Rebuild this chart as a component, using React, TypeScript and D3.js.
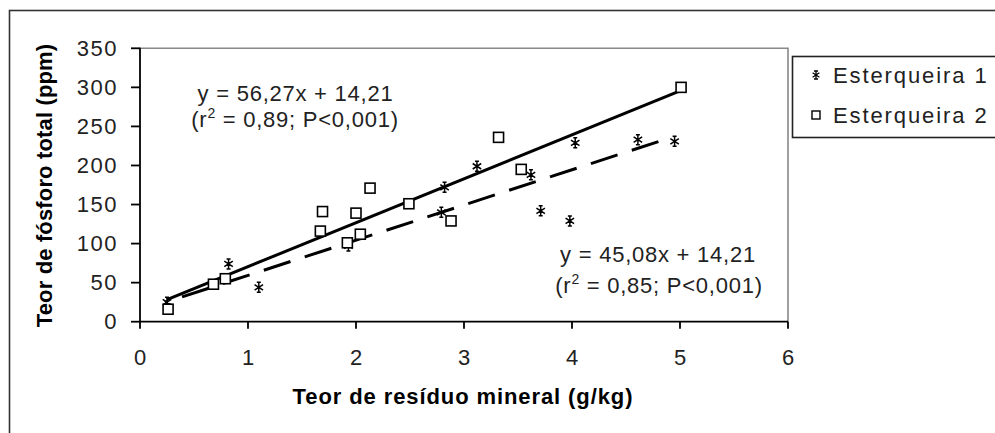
import React from 'react';
import * as d3 from 'd3';

const xTicks = [0, 1, 2, 3, 4, 5, 6];
const yTicks = [0, 50, 100, 150, 200, 250, 300, 350];

// Esterqueira 1 (asterisks)
const s1X = [0.25, 0.82, 1.1, 1.93, 2.79, 2.82, 3.12, 3.62, 3.71, 3.98, 4.03, 4.61, 4.95];
const s1Y = [25, 74, 44, 97, 140, 172, 199, 188, 142, 129, 229, 233, 231];
// Esterqueira 2 (squares)
const s2X = [0.26, 0.68, 0.79, 1.67, 1.69, 1.92, 2.0, 2.04, 2.13, 2.49, 2.88, 3.32, 3.53, 5.01];
const s2Y = [16, 48, 55, 116, 141, 101, 139, 112, 171, 151, 129, 236, 195, 300];

// regression fits: [solid (Esterqueira 2), dashed (Esterqueira 1)]
const fitSlopes = [56.27, 45.08];
const fitIntercepts = [14.21, 14.21];
const fitFrom = [0.25, 0.23];
const fitTo = [5.0, 4.8];

const legendLabels = ['Esterqueira 1', 'Esterqueira 2'];
const eq1 = ['y = 56,27x + 14,21', ' = 0,89; P<0,001)'];
const eq2 = ['y = 45,08x + 14,21', ' = 0,85; P<0,001)'];
const xTitle = 'Teor de resíduo mineral (g/kg)';
const yTitle = 'Teor de fósforo total (ppm)';

const FONT = '"Liberation Sans", Arial, sans-serif';

function starPath(cx: number, cy: number, r: number) {
  const dx = r * 0.85, dy = r * 0.55;
  return `M${cx},${cy - r}L${cx},${cy + r}` +
    `M${cx - dx},${cy - dy}L${cx + dx},${cy + dy}` +
    `M${cx - dx},${cy + dy}L${cx + dx},${cy - dy}` +
    `M${cx - 2},${cy - r}L${cx + 2},${cy - r}` +
    `M${cx - 2},${cy + r}L${cx + 2},${cy + r}`;
}

export default function App() {
  const x = d3.scaleLinear().domain([0, 6]).range([140, 788]);
  const y = d3.scaleLinear().domain([0, 350]).range([321.7, 48.3]);

  const fitPts = (k: number): [number, number][] =>
    [fitFrom[k], fitTo[k]].map((v) => [x(v), y(fitSlopes[k] * v + fitIntercepts[k])] as [number, number]);
  const fitPath = (k: number) => d3.line()(fitPts(k)) as string;

  const DASH = 28, GAP = 15;
  const p = fitPts(1);
  const len = Math.hypot(p[1][0] - p[0][0], p[1][1] - p[0][1]);
  const period = DASH + GAP;
  const dashOffset = ((DASH - (len % period)) % period + period) % period;

  return (
    <svg width={995} height={433} style={{ position: 'absolute', left: 0, top: 0, background: '#fff' }}>
      {/* outer chart border */}
      <rect x={9.5} y={10.5} width={1100} height={600} fill="#fff" stroke="#333" strokeWidth={1.6} />
      {/* plot area border */}
      <path d={`M${x(0)},${y(350)}H${x(6)}V${y(0)}`} fill="none" stroke="#888" strokeWidth={1.6} />
      {/* axes */}
      <line x1={x(0)} x2={x(0)} y1={y(350) - 0.5} y2={y(0)} stroke="#000" strokeWidth={1.8} />
      <line x1={x(0)} x2={x(6)} y1={y(0)} y2={y(0)} stroke="#000" strokeWidth={1.8} />
      {yTicks.map((t) => (
        <g key={'y' + t}>
          <line x1={x(0) - 9} x2={x(0)} y1={y(t)} y2={y(t)} stroke="#000" strokeWidth={1.8} />
          <text x={118} y={y(t) + 7.5} textAnchor="end" fontFamily={FONT} fontSize={22} letterSpacing={1.5} fill="#222">{t}</text>
        </g>
      ))}
      {xTicks.map((t) => (
        <g key={'x' + t}>
          <line x1={x(t)} x2={x(t)} y1={y(0)} y2={y(0) + 7} stroke="#000" strokeWidth={1.8} />
          <text x={x(t)} y={365} textAnchor="middle" fontFamily={FONT} fontSize={22} fill="#222">{t}</text>
        </g>
      ))}
      <text x={463} y={404} textAnchor="middle" fontFamily={FONT} fontWeight="bold" fontSize={22} letterSpacing={0.9} fill="#000">{xTitle}</text>
      <text transform="translate(52,185.5) rotate(-90)" textAnchor="middle" fontFamily={FONT} fontWeight="bold" fontSize={22} letterSpacing={0.15} fill="#000">{yTitle}</text>

      {/* regression lines */}
      <path d={fitPath(0)} fill="none" stroke="#000" strokeWidth={3} />
      <path d={fitPath(1)} fill="none" stroke="#000" strokeWidth={3} strokeDasharray={`${DASH} ${GAP}`} strokeDashoffset={dashOffset} />

      {/* markers */}
      {s1X.map((v, i) => (
        <path key={'a' + i} d={starPath(x(v), y(s1Y[i]), 5)} stroke="#000" strokeWidth={1.5} fill="none" />
      ))}
      {s2X.map((v, i) => (
        <rect key={'b' + i} x={x(v) - 5} y={y(s2Y[i]) - 5} width={10} height={10} fill="#fff" stroke="#000" strokeWidth={1.6} />
      ))}

      {/* equations */}
      <text x={295.5} y={101} textAnchor="middle" fontFamily={FONT} fontSize={22} letterSpacing={0.75} fill="#222">{eq1[0]}</text>
      <text x={295} y={127} textAnchor="middle" fontFamily={FONT} fontSize={22} letterSpacing={0.75} fill="#222">
        (r<tspan fontSize={14} dy={-9}>2</tspan><tspan dy={9}>{eq1[1]}</tspan>
      </text>
      <text x={658} y={262} textAnchor="middle" fontFamily={FONT} fontSize={22} letterSpacing={0.75} fill="#222">{eq2[0]}</text>
      <text x={659} y={293} textAnchor="middle" fontFamily={FONT} fontSize={22} letterSpacing={0.75} fill="#222">
        (r<tspan fontSize={14} dy={-9}>2</tspan><tspan dy={9}>{eq2[1]}</tspan>
      </text>

      {/* legend */}
      <rect x={792.5} y={56.5} width={300} height={81} fill="#fff" stroke="#222" strokeWidth={1.6} />
      <path d={starPath(816, 75, 4)} stroke="#000" strokeWidth={1.3} fill="none" />
      <rect x={812} y={111} width={8} height={8} fill="#fff" stroke="#000" strokeWidth={1.4} />
      {legendLabels.map((l, i) => (
        <text key={l} x={833} y={83 + i * 40} fontFamily={FONT} fontSize={22} letterSpacing={1.9} fill="#222">{l}</text>
      ))}
    </svg>
  );
}
